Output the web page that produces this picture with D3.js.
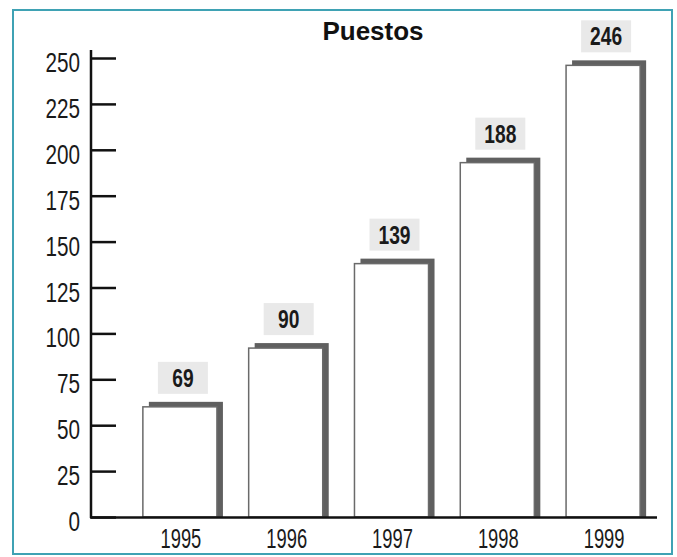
<!DOCTYPE html>
<html>
<head>
<meta charset="utf-8">
<script src="https://cdn.jsdelivr.net/npm/d3@7"></script>
<style>
  html, body { margin: 0; padding: 0; background: #ffffff; }
  svg { display: block; }
</style>
</head>
<body>
<svg id="chart" width="677" height="557"></svg>
<script>
// ---- data ----
const years = ["1995", "1996", "1997", "1998", "1999"];
// printed value labels above the bars
const labelValues = [69, 90, 139, 188, 246];
// bar heights as drawn in the original (the 1995 bar is drawn shorter than its label)
const barValues = [60, 92, 138, 193, 246];
const yTicks = [0, 25, 50, 75, 100, 125, 150, 175, 200, 225, 250];
const title = "Puestos";

const svg = d3.select("#chart");
const sans = "'Liberation Sans', Arial, sans-serif";

// frame
svg.append("rect")
  .attr("x", 13).attr("y", 10).attr("width", 659).attr("height", 544)
  .attr("fill", "#ffffff").attr("stroke", "#3fa2b4").attr("stroke-width", 2);

const y = d3.scaleLinear().domain([0, 250]).range([517, 58]);
const x = d3.scaleBand().domain(years).range([127, 656]).paddingInner(0.3).paddingOuter(0.15);
const bw = x.bandwidth();

// title
svg.append("text")
  .attr("x", 373).attr("y", 40)
  .attr("text-anchor", "middle")
  .attr("font-family", sans)
  .attr("font-weight", "bold").attr("font-size", 26)
  .attr("fill", "#111")
  .text(title);

// y axis
const yAxis = d3.axisRight(y).tickValues(yTicks).tickSize(25).tickFormat("");
const gy = svg.append("g").attr("transform", "translate(91,0)").call(yAxis);
gy.select(".domain").remove();
gy.selectAll(".tick line").attr("stroke", "#111").attr("stroke-width", 2.5);
svg.append("line").attr("x1", 91).attr("x2", 91).attr("y1", 50).attr("y2", 518)
  .attr("stroke", "#111").attr("stroke-width", 2.5);

// condensed text helper: horizontal squeeze of a regular font
svg.append("g").selectAll("text").data(yTicks).join("text")
  .attr("transform", d => `translate(80,${y(d) + 14}) scale(0.74,1)`)
  .attr("text-anchor", "end")
  .attr("font-family", sans).attr("font-size", 28).attr("fill", "#1a1a1a")
  .text(d => d);

// bars: shadow then front
const bars = svg.append("g");
bars.selectAll("rect.shadow").data(barValues).join("rect")
  .attr("class", "shadow")
  .attr("x", (d, i) => x(years[i]) + 6)
  .attr("y", d => y(d) - 5)
  .attr("width", bw)
  .attr("height", d => y(0) - y(d) + 5)
  .attr("fill", "#606060");
bars.selectAll("rect.front").data(barValues).join("rect")
  .attr("class", "front")
  .attr("x", (d, i) => x(years[i]))
  .attr("y", d => y(d))
  .attr("width", bw)
  .attr("height", d => y(0) - y(d))
  .attr("fill", "#ffffff").attr("stroke", "#6a6a6a").attr("stroke-width", 1.5);

// x axis line
svg.append("line").attr("x1", 90).attr("x2", 657).attr("y1", 517.5).attr("y2", 517.5)
  .attr("stroke", "#111").attr("stroke-width", 2.5);

// x labels
svg.append("g").selectAll("text").data(years).join("text")
  .attr("transform", d => `translate(${x(d) + bw / 2 + 1},548) scale(0.68,1)`)
  .attr("text-anchor", "middle")
  .attr("font-family", sans).attr("font-size", 27).attr("fill", "#1a1a1a")
  .text(d => d);

// value label boxes
const lab = svg.append("g");
lab.selectAll("rect").data(barValues).join("rect")
  .attr("x", (d, i) => x(years[i]) + bw / 2 + 3 - 25)
  .attr("y", d => y(d) - 45)
  .attr("width", 50).attr("height", 32)
  .attr("fill", "#e9e9e9");
lab.selectAll("text").data(barValues).join("text")
  .attr("transform", (d, i) => `translate(${x(years[i]) + bw / 2 + 3},${y(d) - 20}) scale(0.74,1)`)
  .attr("text-anchor", "middle")
  .attr("font-family", sans).attr("font-weight", "bold").attr("font-size", 26)
  .attr("fill", "#1a1a1a")
  .text((d, i) => labelValues[i]);
</script>
</body>
</html>
